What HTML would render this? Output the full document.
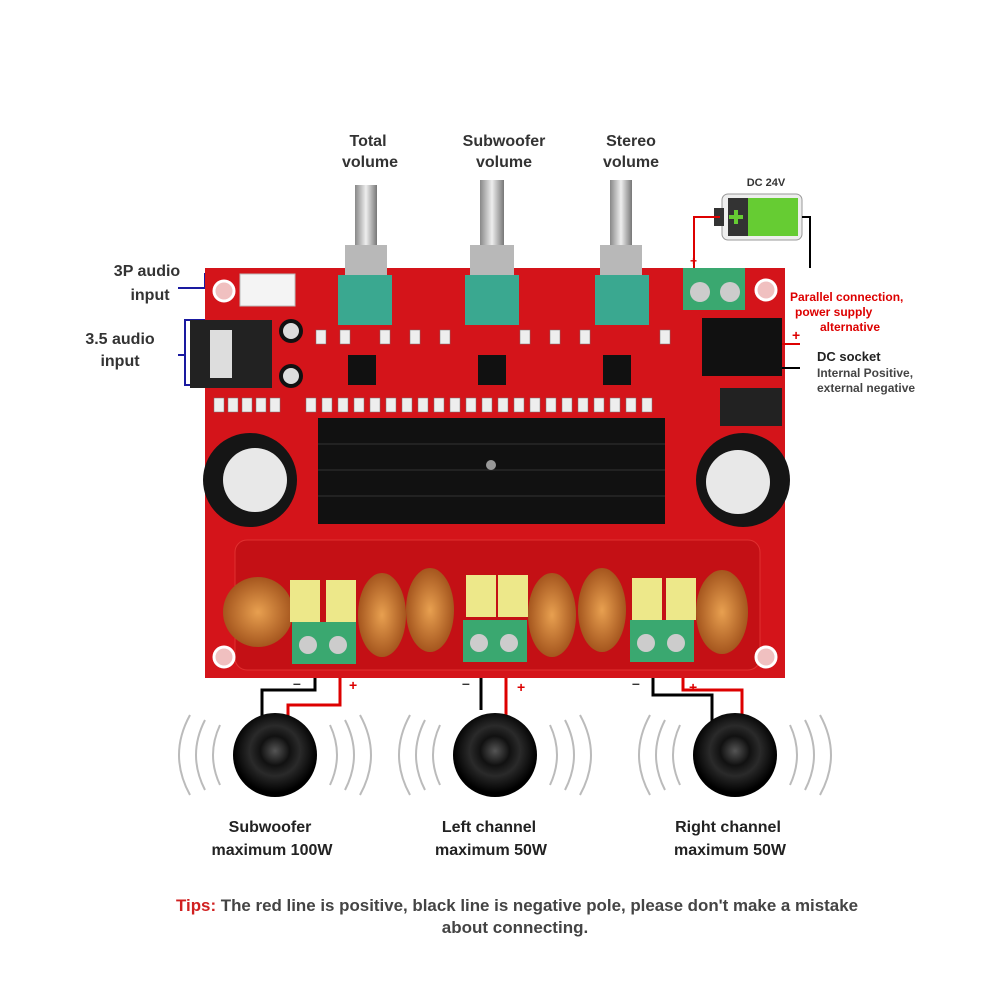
<!DOCTYPE html>
<html><head><meta charset="utf-8"><style>
html,body{margin:0;padding:0;background:#fff}
svg{display:block}
text{font-family:"Liberation Sans",sans-serif;font-weight:bold}
</style></head><body>
<svg width="1000" height="1000" viewBox="0 0 1000 1000">
<defs>
<radialGradient id="spk" cx="50%" cy="45%" r="50%"><stop offset="0" stop-color="#555"/><stop offset="0.35" stop-color="#111"/><stop offset="0.6" stop-color="#2a2a2a"/><stop offset="1" stop-color="#000"/></radialGradient>
<linearGradient id="knob" x1="0" x2="1"><stop offset="0" stop-color="#888"/><stop offset="0.5" stop-color="#eee"/><stop offset="1" stop-color="#777"/></linearGradient>
<radialGradient id="coil" cx="50%" cy="50%" r="50%"><stop offset="0" stop-color="#e8a050"/><stop offset="1" stop-color="#a5561e"/></radialGradient>
</defs>
<g fill="#333" font-size="16" text-anchor="middle">
<text x="368" y="146">Total</text><text x="370" y="167">volume</text>
<text x="504" y="146">Subwoofer</text><text x="504" y="167">volume</text>
<text x="631" y="146">Stereo</text><text x="631" y="167">volume</text>
<text x="147" y="276">3P audio</text><text x="150" y="300">input</text>
<text x="120" y="344">3.5 audio</text><text x="120" y="366">input</text>
</g>
<g stroke="#1a1aa0" stroke-width="2" fill="none">
<path d="M178 288H205V274H240V298H205"/>
<path d="M178 355H185V320H232V385H185V355"/>
</g>
<text x="766" y="186" font-size="11" fill="#333" text-anchor="middle">DC 24V</text>
<rect x="722" y="194" width="80" height="46" rx="6" fill="#eee" stroke="#999"/>
<rect x="714" y="208" width="10" height="18" fill="#333"/>
<rect x="748" y="198" width="50" height="38" fill="#6c3"/>
<rect x="728" y="198" width="20" height="38" fill="#333"/>
<path d="M736 210v14M729 217h14" stroke="#6c3" stroke-width="4"/>
<path d="M720 217H694V268" stroke="#d00" stroke-width="2" fill="none"/>
<path d="M802 217H810V268" stroke="#000" stroke-width="2" fill="none"/>
<text x="690" y="265" fill="#d00" font-size="12">+</text>
<rect x="205" y="268" width="580" height="410" fill="#d4141a"/>
<rect x="235" y="540" width="525" height="130" rx="12" fill="#c41015" stroke="#e03030"/>
<g fill="#f0c0c0" stroke="#fff" stroke-width="3"><circle cx="224" cy="291" r="10"/><circle cx="766" cy="290" r="10"/><circle cx="224" cy="657" r="10"/><circle cx="766" cy="657" r="10"/></g>
<rect x="240" y="274" width="55" height="32" fill="#f4f4f4" stroke="#bbb"/>
<rect x="190" y="320" width="82" height="68" fill="#222"/>
<rect x="210" y="330" width="22" height="48" fill="#ddd"/>
<circle cx="291" cy="331" r="12" fill="#111"/><circle cx="291" cy="331" r="8" fill="#ddd"/>
<circle cx="291" cy="376" r="12" fill="#111"/><circle cx="291" cy="376" r="8" fill="#ddd"/>
<g>
<rect x="355" y="185" width="22" height="60" fill="url(#knob)"/><rect x="345" y="245" width="42" height="30" fill="#b8b8b8"/><rect x="338" y="275" width="54" height="50" fill="#3aa890"/>
<rect x="480" y="180" width="24" height="65" fill="url(#knob)"/><rect x="470" y="245" width="44" height="30" fill="#b8b8b8"/><rect x="465" y="275" width="54" height="50" fill="#3aa890"/>
<rect x="610" y="180" width="22" height="65" fill="url(#knob)"/><rect x="600" y="245" width="42" height="30" fill="#b8b8b8"/><rect x="595" y="275" width="54" height="50" fill="#3aa890"/>
</g>
<rect x="683" y="268" width="62" height="42" fill="#3aa870"/>
<circle cx="700" cy="292" r="10" fill="#ccc"/><circle cx="730" cy="292" r="10" fill="#ccc"/>
<rect x="702" y="318" width="80" height="58" fill="#111"/>
<rect x="720" y="388" width="62" height="38" fill="#222"/>
<text x="790" y="301" fill="#d00" font-size="12">Parallel connection,</text>
<text x="795" y="316" fill="#d00" font-size="12">power supply</text>
<text x="820" y="331" fill="#d00" font-size="12">alternative</text>
<text x="792" y="340" fill="#d00" font-size="14">+</text>
<path d="M782 344H800" stroke="#d00" stroke-width="2"/>
<path d="M782 368H800" stroke="#000" stroke-width="2"/>
<text x="817" y="361" fill="#222" font-size="13">DC socket</text>
<text x="817" y="377" fill="#444" font-size="12" font-weight="normal">Internal Positive,</text>
<text x="817" y="392" fill="#444" font-size="12" font-weight="normal">external negative</text>
<rect x="348" y="355" width="28" height="30" fill="#111"/><rect x="478" y="355" width="28" height="30" fill="#111"/><rect x="603" y="355" width="28" height="30" fill="#111"/>
<g fill="#eee" stroke="#777" stroke-width="0.5">
<rect x="214" y="398" width="10" height="14"/><rect x="228" y="398" width="10" height="14"/><rect x="242" y="398" width="10" height="14"/><rect x="256" y="398" width="10" height="14"/><rect x="270" y="398" width="10" height="14"/>
<rect x="306" y="398" width="10" height="14"/><rect x="322" y="398" width="10" height="14"/><rect x="338" y="398" width="10" height="14"/><rect x="354" y="398" width="10" height="14"/><rect x="370" y="398" width="10" height="14"/><rect x="386" y="398" width="10" height="14"/><rect x="402" y="398" width="10" height="14"/><rect x="418" y="398" width="10" height="14"/><rect x="434" y="398" width="10" height="14"/><rect x="450" y="398" width="10" height="14"/><rect x="466" y="398" width="10" height="14"/><rect x="482" y="398" width="10" height="14"/><rect x="498" y="398" width="10" height="14"/><rect x="514" y="398" width="10" height="14"/><rect x="530" y="398" width="10" height="14"/><rect x="546" y="398" width="10" height="14"/><rect x="562" y="398" width="10" height="14"/><rect x="578" y="398" width="10" height="14"/><rect x="594" y="398" width="10" height="14"/><rect x="610" y="398" width="10" height="14"/><rect x="626" y="398" width="10" height="14"/><rect x="642" y="398" width="10" height="14"/>
<rect x="316" y="330" width="10" height="14"/><rect x="340" y="330" width="10" height="14"/><rect x="380" y="330" width="10" height="14"/><rect x="410" y="330" width="10" height="14"/><rect x="440" y="330" width="10" height="14"/><rect x="520" y="330" width="10" height="14"/><rect x="550" y="330" width="10" height="14"/><rect x="580" y="330" width="10" height="14"/><rect x="660" y="330" width="10" height="14"/>
</g>
<rect x="318" y="418" width="347" height="106" fill="#111"/>
<g stroke="#333"><path d="M318 444H665M318 470H665M318 496H665"/></g>
<circle cx="491" cy="465" r="5" fill="#999"/>
<circle cx="250" cy="480" r="47" fill="#151515"/><circle cx="255" cy="480" r="32" fill="#e8e8e8"/>
<circle cx="743" cy="480" r="47" fill="#151515"/><circle cx="738" cy="482" r="32" fill="#e8e8e8"/>
<g fill="url(#coil)">
<circle cx="258" cy="612" r="35"/><ellipse cx="382" cy="615" rx="24" ry="42"/><ellipse cx="430" cy="610" rx="24" ry="42"/>
<ellipse cx="552" cy="615" rx="24" ry="42"/><ellipse cx="602" cy="610" rx="24" ry="42"/><ellipse cx="722" cy="612" rx="26" ry="42"/>
</g>
<g fill="#ede88a"><rect x="290" y="580" width="30" height="42"/><rect x="326" y="580" width="30" height="42"/><rect x="466" y="575" width="30" height="42"/><rect x="498" y="575" width="30" height="42"/><rect x="632" y="578" width="30" height="42"/><rect x="666" y="578" width="30" height="42"/></g>
<g fill="#3aa870"><rect x="292" y="622" width="64" height="42"/><rect x="463" y="620" width="64" height="42"/><rect x="630" y="620" width="64" height="42"/></g>
<g fill="#ccc"><circle cx="308" cy="645" r="9"/><circle cx="338" cy="645" r="9"/><circle cx="479" cy="643" r="9"/><circle cx="509" cy="643" r="9"/><circle cx="646" cy="643" r="9"/><circle cx="676" cy="643" r="9"/></g>
<g fill="none" stroke-width="3">
<path d="M315 678V690H262V720" stroke="#000"/><path d="M340 678V705H288V718" stroke="#d00"/>
<path d="M481 678V710" stroke="#000"/><path d="M506 678V720" stroke="#d00"/>
<path d="M653 678V695H712V722" stroke="#000"/><path d="M683 678V690H742V718" stroke="#d00"/>
</g>
<g font-size="14"><text x="293" y="688" fill="#333">–</text><text x="349" y="690" fill="#d00">+</text><text x="462" y="688" fill="#333">–</text><text x="517" y="692" fill="#d00">+</text><text x="632" y="688" fill="#333">–</text><text x="689" y="692" fill="#d00">+</text></g>
<g stroke="#bbb" stroke-width="2" fill="none">
<path d="M220 725q-14 30 0 60M205 720q-18 35 0 70M190 715q-22 40 0 80M330 725q14 30 0 60M345 720q18 35 0 70M360 715q22 40 0 80"/>
<path d="M440 725q-14 30 0 60M425 720q-18 35 0 70M410 715q-22 40 0 80M550 725q14 30 0 60M565 720q18 35 0 70M580 715q22 40 0 80"/>
<path d="M680 725q-14 30 0 60M665 720q-18 35 0 70M650 715q-22 40 0 80M790 725q14 30 0 60M805 720q18 35 0 70M820 715q22 40 0 80"/>
</g>
<circle cx="275" cy="755" r="42" fill="url(#spk)"/><circle cx="495" cy="755" r="42" fill="url(#spk)"/><circle cx="735" cy="755" r="42" fill="url(#spk)"/>
<g fill="#222" font-size="16" text-anchor="middle">
<text x="270" y="832">Subwoofer</text><text x="272" y="855">maximum 100W</text>
<text x="489" y="832">Left channel</text><text x="491" y="855">maximum 50W</text>
<text x="728" y="832">Right channel</text><text x="730" y="855">maximum 50W</text>
</g>
<text x="176" y="911" font-size="17" fill="#444" textLength="682" lengthAdjust="spacingAndGlyphs"><tspan fill="#d02020">Tips:</tspan> The red line is positive, black line is negative pole, please don't make a mistake</text>
<text x="515" y="933" font-size="17" fill="#444" text-anchor="middle">about connecting.</text>
</svg>
</body></html>
